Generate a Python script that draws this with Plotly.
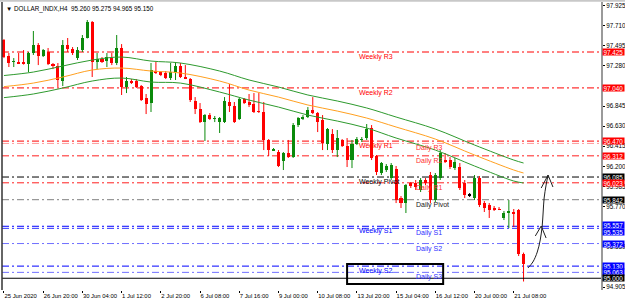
import plotly.graph_objects as go

# ---------------- data ----------------
bars = list(range(1, 108))
opens = [97.553, 97.382, 97.318, 97.318, 97.318, 97.296, 97.414, 97.500, 97.382, 97.425,
         97.296, 97.275, 97.114, 97.500, 97.457, 97.360, 97.446, 97.575, 97.746, 97.318,
         97.350, 97.328, 97.360, 97.307, 97.468, 97.050, 97.114, 97.114, 97.060, 96.932,
         96.878, 97.221, 97.210, 97.200, 97.146, 97.210, 97.275, 97.157, 97.135, 96.900,
         96.814, 96.674, 96.749, 96.707, 96.674, 96.674, 96.889, 96.846, 96.707, 96.921,
         96.889, 96.867, 96.792, 96.782, 96.482, 96.374, 96.353, 96.256, 96.342, 96.299,
         96.642, 96.707, 96.728, 96.803, 96.771, 96.696, 96.439, 96.546, 96.374, 96.482,
         96.417, 96.267, 96.439, 96.482, 96.503, 96.610, 96.310, 96.128, 96.160, 96.074,
         96.171, 95.860, 95.806, 96.021, 96.021, 95.946, 96.053, 96.106, 95.838, 96.074,
         96.267, 96.267, 96.181, 96.192, 96.021, 95.892, 95.860, 96.074, 95.806, 95.785,
         95.753, 95.742, 95.646, 95.699, 95.710, 95.731, 95.260]
highs = [97.564, 97.414, 97.360, 97.414, 97.446, 97.425, 97.650, 97.521, 97.457, 97.468,
         97.307, 97.307, 97.553, 97.575, 97.478, 97.478, 97.607, 97.768, 97.757, 97.414,
         97.371, 97.414, 97.414, 97.607, 97.510, 97.157, 97.135, 97.135, 97.071, 96.975,
         97.307, 97.318, 97.221, 97.221, 97.307, 97.318, 97.307, 97.285, 97.146, 96.942,
         96.878, 96.760, 96.771, 96.739, 96.728, 96.942, 97.082, 96.889, 96.932, 96.932,
         96.975, 96.985, 96.985, 96.889, 96.492, 96.396, 96.374, 96.353, 96.482, 96.664,
         96.728, 96.749, 96.835, 96.942, 96.782, 96.749, 96.610, 96.599, 96.589, 96.492,
         96.503, 96.482, 96.514, 96.514, 96.653, 96.642, 96.321, 96.246, 96.224, 96.235,
         96.203, 95.881, 96.010, 96.031, 96.053, 96.074, 96.074, 96.139, 96.128, 96.374,
         96.342, 96.299, 96.289, 96.235, 96.053, 95.913, 96.106, 96.096, 95.828, 95.806,
         95.774, 95.763, 95.721, 95.838, 95.742, 95.742, 95.275]
lows = [97.360, 97.264, 97.264, 97.296, 97.290, 97.210, 97.393, 97.285, 97.371, 97.285,
        97.242, 97.050, 97.060, 97.425, 97.393, 97.339, 97.425, 97.570, 97.157, 97.242,
        97.307, 97.264, 97.285, 97.285, 96.964, 96.985, 97.082, 97.039, 96.900, 96.760,
        96.782, 97.189, 97.167, 97.135, 97.125, 97.125, 97.146, 97.135, 96.889, 96.760,
        96.664, 96.471, 96.696, 96.674, 96.557, 96.664, 96.782, 96.664, 96.696, 96.867,
        96.835, 96.771, 96.771, 96.374, 96.310, 96.364, 96.192, 96.160, 96.289, 96.289,
        96.621, 96.696, 96.717, 96.760, 96.567, 96.374, 96.374, 96.342, 96.299, 96.407,
        96.192, 96.181, 96.428, 96.460, 96.482, 96.267, 96.106, 96.106, 96.139, 96.053,
        95.806, 95.753, 95.699, 95.967, 95.946, 95.924, 95.999, 95.806, 95.817, 96.053,
        96.235, 96.171, 96.160, 95.946, 95.860, 95.871, 95.838, 95.763, 95.710, 95.646,
        95.721, 95.731, 95.624, 95.538, 95.549, 95.238, 94.965]
closes = [97.371, 97.307, 97.328, 97.307, 97.296, 97.414, 97.500, 97.382, 97.446, 97.296,
          97.285, 97.125, 97.500, 97.457, 97.414, 97.446, 97.575, 97.746, 97.318, 97.350,
          97.318, 97.371, 97.307, 97.468, 97.050, 97.114, 97.092, 97.050, 96.910, 96.867,
          97.232, 97.200, 97.178, 97.146, 97.210, 97.275, 97.157, 97.146, 96.910, 96.814,
          96.674, 96.749, 96.707, 96.717, 96.717, 96.900, 96.846, 96.674, 96.921, 96.878,
          96.857, 96.782, 96.782, 96.482, 96.374, 96.385, 96.203, 96.342, 96.299, 96.642,
          96.717, 96.728, 96.803, 96.771, 96.674, 96.449, 96.599, 96.374, 96.503, 96.417,
          96.267, 96.439, 96.492, 96.492, 96.599, 96.289, 96.139, 96.235, 96.203, 96.214,
          95.838, 95.806, 95.999, 95.989, 95.978, 96.053, 96.021, 95.838, 96.106, 96.342,
          96.246, 96.192, 96.246, 95.967, 95.892, 95.892, 96.074, 95.785, 95.753, 95.731,
          95.742, 95.735, 95.699, 95.721, 95.688, 95.260, 95.150]

# moving average envelope, read at sample bars
ma_bars = [1, 7, 13, 19, 25, 31, 37, 45, 51, 57, 63, 69, 75, 81, 89, 97, 105, 107]
env_upper = [97.173, 97.210, 97.275, 97.339, 97.371, 97.328, 97.307, 97.221, 97.125, 97.050,
             96.964, 96.900, 96.825, 96.728, 96.599, 96.428, 96.267, 96.235]
ma_mid = [97.054, 97.092, 97.157, 97.232, 97.253, 97.221, 97.200, 97.114, 97.017, 96.942,
          96.857, 96.792, 96.717, 96.621, 96.492, 96.321, 96.160, 96.128]
env_lower = [96.936, 96.975, 97.039, 97.114, 97.146, 97.103, 97.092, 96.996, 96.910, 96.835,
             96.749, 96.685, 96.610, 96.503, 96.374, 96.203, 96.042, 96.021]

# pivot levels
level_names = ["Weekly R3", "Weekly R2", "Weekly R1", "Daily R3", "Daily R2", "Weekly Pivot",
               "Daily R1", "Daily Pivot", "Weekly S1", "Daily S1", "Daily S2", "Weekly S2", "Daily S3"]
level_values = [97.425, 97.040, 96.470, 96.445, 96.312, 96.085, 96.023, 95.842,
                95.557, 95.535, 95.372, 95.130, 95.063]
hline_value = 95.000

# price-scale boxes
box_values = [97.425, 97.040, 96.470, 96.312, 96.085, 96.023, 95.842,
              95.557, 95.535, 95.372, 95.130, 95.063, 95.000]
box_labels = ["97.425", "97.040", "96.470", "96.312", "96.085", "96.023", "95.842",
              "95.557", "95.535", "95.372", "95.130", "95.063", "95.000"]

# price axis ticks (the ones not hidden behind level boxes)
price_ticks = [97.925, 97.710, 97.495, 97.280, 96.845, 96.630, 96.415,
               96.200, 95.985, 95.770, 95.339, 94.905]
price_tick_labels = ["97.925", "97.710", "97.495", "97.280", "96.845", "96.630", "96.415",
                     "96.200", "95.985", "95.770", "95.339", "94.905"]

# time axis
time_tick_bars = [1, 9, 17, 25, 33, 41, 49, 57, 65, 73, 81, 89, 97, 105]
time_tick_labels = ["25 Jun 2020", "26 Jun 20:00", "30 Jun 04:00", "1 Jul 12:00", "2 Jul 20:00",
                    "6 Jul 08:00", "7 Jul 16:00", "9 Jul 00:00", "10 Jul 08:00", "13 Jul 20:00",
                    "15 Jul 04:00", "16 Jul 12:00", "20 Jul 00:00", "21 Jul 08:00"]

# hand drawn arrow (bar, price)
arrow_bars = [107.9, 108.9, 109.8, 110.4, 110.8, 111.0, 111.2, 111.6, 112.0]
arrow_prices = [95.110, 95.174, 95.281, 95.410, 95.560, 95.710, 95.860, 95.999, 96.106]
arrowhead_bars = [110.6, 112.0, 113.0]
arrowhead_prices = [95.967, 96.106, 95.978]
hook_bars = [109.4, 110.6, 111.6]
hook_prices = [95.453, 95.560, 95.431]

# rectangle around the S2/S3 labels
rect_bars = [71.0, 90.6]
rect_prices = [94.938, 95.153]

title_text = "DOLLAR_INDX,H4  95.260 95.275 94.965 95.150"

# ---------------- styles ----------------
GREEN = "#0B8A0B"
RED = "#FF0000"
FONT = "Liberation Sans"

fig = go.Figure()

# candle bodies
body_base, body_h, body_col = [], [], []
for o, c in zip(opens, closes):
    body_base.append(min(o, c))
    body_h.append(max(abs(c - o), 0.006))
    body_col.append(GREEN if c > o else (RED if c < o else "#000000"))

# wicks
for col in [GREEN, RED, "#000000"]:
    wx, wy = [], []
    for b, h, l, cc in zip(bars, highs, lows, body_col):
        if cc == col:
            wx += [b, b, None]
            wy += [l, h, None]
    fig.add_trace(go.Scatter(x=wx, y=wy, mode="lines", line=dict(color=col, width=1),
                             hoverinfo="skip", showlegend=False))

fig.add_trace(go.Bar(x=bars, y=body_h, base=body_base, width=0.62,
                     marker=dict(color=body_col, line=dict(width=0)),
                     showlegend=False, hoverinfo="skip"))

# envelope / MA
fig.add_trace(go.Scatter(x=ma_bars, y=env_upper, mode="lines", line=dict(color="#2E9A2E", width=1, shape="spline"),
                         showlegend=False, hoverinfo="skip"))
fig.add_trace(go.Scatter(x=ma_bars, y=ma_mid, mode="lines", line=dict(color="#FFA020", width=1, shape="spline"),
                         showlegend=False, hoverinfo="skip"))
fig.add_trace(go.Scatter(x=ma_bars, y=env_lower, mode="lines", line=dict(color="#2E9A2E", width=1, shape="spline"),
                         showlegend=False, hoverinfo="skip"))

# arrow
fig.add_trace(go.Scatter(x=arrow_bars, y=arrow_prices, mode="lines",
                         line=dict(color="#202020", width=1, shape="spline"), showlegend=False, hoverinfo="skip"))
fig.add_trace(go.Scatter(x=arrowhead_bars, y=arrowhead_prices, mode="lines",
                         line=dict(color="#202020", width=1), showlegend=False, hoverinfo="skip"))
fig.add_trace(go.Scatter(x=hook_bars, y=hook_prices, mode="lines",
                         line=dict(color="#202020", width=1), showlegend=False, hoverinfo="skip"))

shapes = []
annotations = []

level_style = {
    "Weekly R3": ("#FF0000", "#FF0000"), "Weekly R2": ("#FF0000", "#FF0000"),
    "Weekly R1": ("#FF0000", "#FF0000"), "Daily R3": ("#FF9A9A", "#FF3030"),
    "Daily R2": ("#FF2020", "#FF3030"), "Weekly Pivot": ("#000000", "#000000"),
    "Daily R1": ("#FF2020", "#FF3030"), "Daily Pivot": ("#808080", "#202020"),
    "Weekly S1": ("#0000FF", "#0000FF"), "Daily S1": ("#3030FF", "#3030FF"),
    "Daily S2": ("#7070FF", "#3030FF"), "Weekly S2": ("#0000FF", "#0000FF"),
    "Daily S3": ("#7070FF", "#3030FF"),
}
for name, val in zip(level_names, level_values):
    lc, tc = level_style[name]
    shapes.append(dict(type="line", xref="paper", x0=0, x1=1, yref="y", y0=val, y1=val,
                       line=dict(color=lc, width=1, dash="7px,3px,2px,3px"), layer="below"))
    xb = 73 if name.startswith("Weekly") else 84.6
    annotations.append(dict(x=xb, y=val, xref="x", yref="y", text=name, showarrow=False,
                            xanchor="left", yanchor="top", yshift=1,
                            font=dict(family=FONT, size=7, color=tc)))

shapes.append(dict(type="line", xref="paper", x0=0, x1=1, yref="y", y0=hline_value, y1=hline_value,
                   line=dict(color="#000000", width=1.2)))
shapes.append(dict(type="rect", xref="x", yref="y", x0=rect_bars[0], x1=rect_bars[1],
                   y0=rect_prices[0], y1=rect_prices[1], line=dict(color="#000000", width=2)))

# window borders
shapes.append(dict(type="line", xref="paper", yref="paper", x0=0, x1=0, y0=0, y1=1,
                   line=dict(color="#333333", width=1.5)))
shapes.append(dict(type="line", xref="paper", yref="paper", x0=-0.004, x1=1.05, y0=1.004, y1=1.004,
                   line=dict(color="#C8C8C8", width=2)))

# price scale boxes
box_col = {"97.425": RED, "97.040": RED, "96.470": RED, "96.312": RED, "96.023": RED,
           "96.085": "#000000", "95.842": "#000000", "95.000": "#000000"}
box_shift = {"95.557": 1, "95.535": -4}
for v, t in zip(box_values, box_labels):
    bg = box_col.get(t, "#0000FF")
    annotations.append(dict(x=1, y=v, xref="paper", yref="y", text=t, showarrow=False,
                            xanchor="left", yanchor="middle", xshift=1, yshift=box_shift.get(t, 0),
                            width=21, height=6, bgcolor=bg, borderpad=0,
                            font=dict(family=FONT, size=6.3, color="#FFFFFF")))

annotations.append(dict(x=0, y=1, xref="paper", yref="paper", text="\u25BC " + title_text,
                        showarrow=False, xanchor="left", yanchor="top", xshift=2, yshift=-1,
                        font=dict(family=FONT, size=6.3, color="#000000")))

fig.update_layout(
    width=625, height=300, autosize=False,
    margin=dict(l=2, r=24, t=2, b=10, pad=0),
    paper_bgcolor="#FFFFFF", plot_bgcolor="#FFFFFF",
    shapes=shapes, annotations=annotations, showlegend=False, bargap=0,
    xaxis=dict(range=[0.6, 122.8], showgrid=False, zeroline=False, automargin=False,
               tickmode="array", tickvals=time_tick_bars, ticktext=time_tick_labels,
               ticks="outside", ticklen=2, tickcolor="#000000", tickwidth=1, tickangle=0,
               ticklabelposition="outside right",
               tickfont=dict(family=FONT, size=5.9, color="#000000"),
               showline=False, fixedrange=True),
    yaxis=dict(range=[94.874, 97.961], side="right", showgrid=False, zeroline=False, automargin=False,
               tickmode="array", tickvals=price_ticks, ticktext=price_tick_labels,
               ticks="outside", ticklen=2, tickcolor="#000000",
               tickfont=dict(family=FONT, size=6.3, color="#000000"),
               showline=True, linecolor="#9A9A9A", linewidth=2, fixedrange=True),
)

fig.write_html("out.html")
